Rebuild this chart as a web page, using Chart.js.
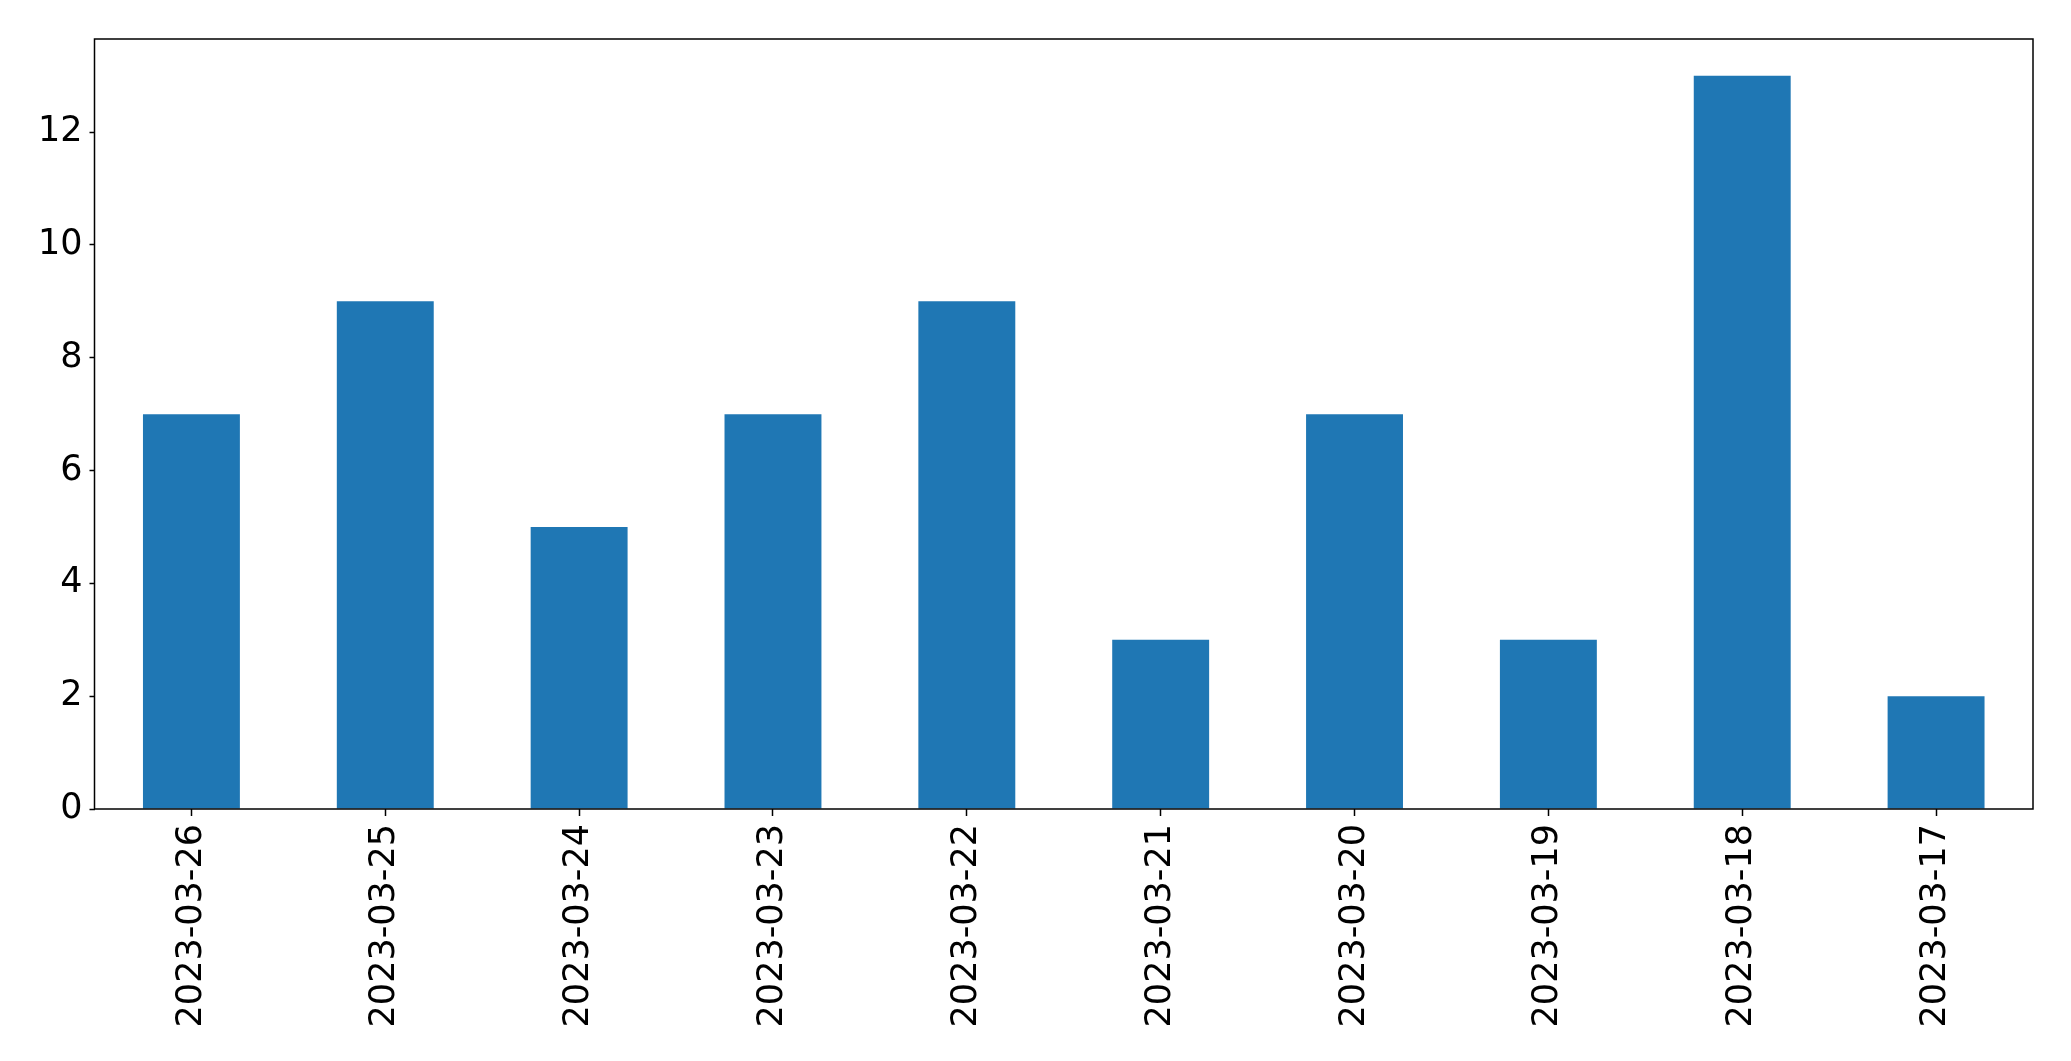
<!DOCTYPE html>
<html>
<head>
<meta charset="utf-8">
<script src="https://cdn.jsdelivr.net/npm/chart.js@4"></script>
<style>
  html, body { margin: 0; padding: 0; background: #fff; }
  #wrap { width: 2071px; height: 1061px; }
</style>
</head>
<body>
<div id="wrap"><canvas id="chart" width="2071" height="1061"></canvas></div>
<script>
const dates = ['2023-03-26', '2023-03-25', '2023-03-24', '2023-03-23', '2023-03-22',
               '2023-03-21', '2023-03-20', '2023-03-19', '2023-03-18', '2023-03-17'];
const counts = [7, 9, 5, 7, 9, 3, 7, 3, 13, 2];
const yTicks = [0, 2, 4, 6, 8, 10, 12];

const font = { family: 'DejaVu Sans', size: 35 };

// draws the box round the plot area, like matplotlib's spines
const frame = {
    id: 'frame',
    afterDraw(chart) {
        const a = chart.chartArea;
        const ctx = chart.ctx;
        ctx.save();
        ctx.strokeStyle = '#000';
        ctx.lineWidth = 1.5;
        ctx.strokeRect(a.left, a.top, a.right - a.left, a.bottom - a.top);
        ctx.restore();
    }
};

new Chart(document.getElementById('chart'), {
    type: 'bar',
    data: {
        labels: dates,
        datasets: [{
            data: counts,
            backgroundColor: '#1f77b4',
            barPercentage: 0.5,
            categoryPercentage: 1.0
        }]
    },
    options: {
        responsive: false,
        animation: false,
        layout: { padding: { top: 39, right: 38, left: 0, bottom: 0 } },
        plugins: { legend: { display: false }, tooltip: { enabled: false } },
        scales: {
            x: {
                offset: true,
                grid: { display: true, drawOnChartArea: false, offset: false, tickLength: 7, tickColor: '#000', tickWidth: 1.5 },
                border: { display: false },
                ticks: { color: '#000', font: font, minRotation: 90, maxRotation: 90, padding: 8, autoSkip: false },
                afterFit(scale) { scale.height = 252; }
            },
            y: {
                min: 0,
                max: 13.65,
                grid: { display: true, drawOnChartArea: false, tickLength: 5, tickColor: '#000', tickWidth: 1.5 },
                border: { display: false },
                ticks: { color: '#000', font: font, padding: 7 },
                afterBuildTicks(scale) { scale.ticks = yTicks.map(v => ({ value: v })); },
                afterFit(scale) { scale.width = 94.5; }
            }
        }
    },
    plugins: [frame]
});
</script>
</body>
</html>
